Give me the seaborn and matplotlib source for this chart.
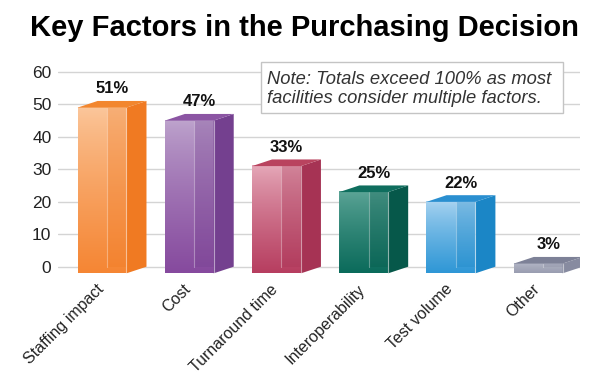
import numpy as np
import matplotlib
matplotlib.use("Agg")
import matplotlib.pyplot as plt
from matplotlib.patches import Polygon, Rectangle
from matplotlib.colors import to_rgb
from matplotlib.transforms import ScaledTranslation
from matplotlib import font_manager
import seaborn as sns

# Data
factors = ["Staffing impact", "Cost", "Turnaround time", "Interoperability", "Test volume", "Other"]
shares = [51, 47, 33, 25, 22, 3]
y_ticks = [0, 10, 20, 30, 40, 50, 60]
title = "Key Factors in the Purchasing Decision"
note = "Note: Totals exceed 100% as most\nfacilities consider multiple factors."

# Bar colours (light top of front face, base of front face, side face, top face)
front_light = ["#fbc79c", "#bea4cd", "#e6aaba", "#5ea698", "#aad4f1", "#b3b6c6"]
front_base = ["#f58634", "#864a9e", "#b73e60", "#0b6b5b", "#2f97d6", "#9a9eb1"]
side_cols = ["#f07a22", "#74408f", "#a63354", "#06584a", "#1b86c6", "#878ba0"]
top_cols = ["#f2862e", "#8b55a3", "#b9435f", "#0f6e5e", "#2a8fd0", "#7d8197"]

sns.set_style("white")
names = {f.name for f in font_manager.fontManager.ttflist}
narrow = "Liberation Sans Narrow" if "Liberation Sans Narrow" in names else "Liberation Sans"
narrow_size = 12.8 if narrow == "Liberation Sans Narrow" else 11.5
plt.rcParams["font.family"] = ["Liberation Sans", "DejaVu Sans"]

fig = plt.figure(figsize=(6, 3.86), dpi=100)
ax = fig.add_axes([0.0973, 0.2872, 0.8694, 0.5523])

sns.barplot(x=factors, y=shares, width=0.56, ax=ax, zorder=3, linewidth=0)

# depth of the fake 3d box (data units)
dx = 0.23
dy = 2.05

for i, p in enumerate(ax.patches):
    x0, w, h = p.get_x(), p.get_width(), p.get_height()
    # front face sits shifted down, the back face spans 0..value
    p.set_y(-dy)
    p.set_facecolor(front_base[i])
    t = np.linspace(0, 1, 80)[:, None, None] ** 0.8
    img = np.array(to_rgb(front_light[i])) * (1 - t) + np.array(to_rgb(front_base[i])) * t
    ax.imshow(img, extent=(x0, x0 + w, -dy, h - dy), aspect="auto", origin="upper", zorder=3.5)
    # back face seen through the glass
    ax.add_patch(Rectangle((x0 + 0.6 * w, 0), 0.4 * w, max(h - dy, 0), facecolor=side_cols[i],
                           alpha=0.3, edgecolor="none", zorder=3.6))
    ax.plot([x0 + 0.6 * w, x0 + 0.6 * w], [0, h - dy], color="white", alpha=0.35, lw=0.8, zorder=3.7)
    # side and top faces
    ax.add_patch(Polygon([(x0 + w, -dy), (x0 + w + dx, 0), (x0 + w + dx, h), (x0 + w, h - dy)],
                         closed=True, facecolor=side_cols[i], edgecolor="none", zorder=3.8))
    ax.add_patch(Polygon([(x0, h - dy), (x0 + dx, h), (x0 + w + dx, h), (x0 + w, h - dy)],
                         closed=True, facecolor=top_cols[i], edgecolor="none", zorder=3.8))
    ax.plot([x0 + w, x0 + w], [-dy, h - dy], color="white", alpha=0.5, lw=0.8, zorder=3.9)
    ax.text(x0 + w / 2 + dx / 2, h + 2.3, f"{shares[i]}%", ha="center", va="baseline",
            fontsize=12, fontweight="bold", color="#111111", zorder=5)

ax.set_xlim(-0.5, 5.48)
ax.set_ylim(-2.6, 63)
ax.set_yticks(y_ticks)
ax.yaxis.grid(True, color="#d4d4d4", lw=1)
ax.set_axisbelow(True)
ax.set_xlabel("")
ax.set_ylabel("")
sns.despine(ax=ax, left=True, bottom=True)
ax.tick_params(axis="y", length=0, pad=5, labelsize=12.5, labelcolor="#222222")
ax.tick_params(axis="x", length=0, pad=6)
shift = ScaledTranslation(-0.06, 0.02, fig.dpi_scale_trans)
for lab in ax.get_xticklabels():
    lab.set_rotation(45)
    lab.set_ha("right")
    lab.set_rotation_mode("anchor")
    lab.set_family([narrow, "DejaVu Sans"])
    lab.set_fontsize(narrow_size)
    lab.set_color("#222222")
    lab.set_transform(lab.get_transform() + shift)

# note box
ax.add_patch(Rectangle((260.7 / 600, 1 - 113 / 386), 302 / 600, 51 / 386, transform=fig.transFigure,
                       facecolor="white", edgecolor="#c4c4c4", lw=1, clip_on=False, zorder=6))
fig.text(267 / 600, 1 - 89 / 386, note, ha="left", va="center", fontsize=13.2, style="italic",
         color="#333333", linespacing=1.1, zorder=7)

fig.text(0.508, 1 - 36 / 386, title, ha="center", va="baseline", fontsize=21, fontweight="bold",
         color="black")

fig.savefig("out.png", dpi=100)
